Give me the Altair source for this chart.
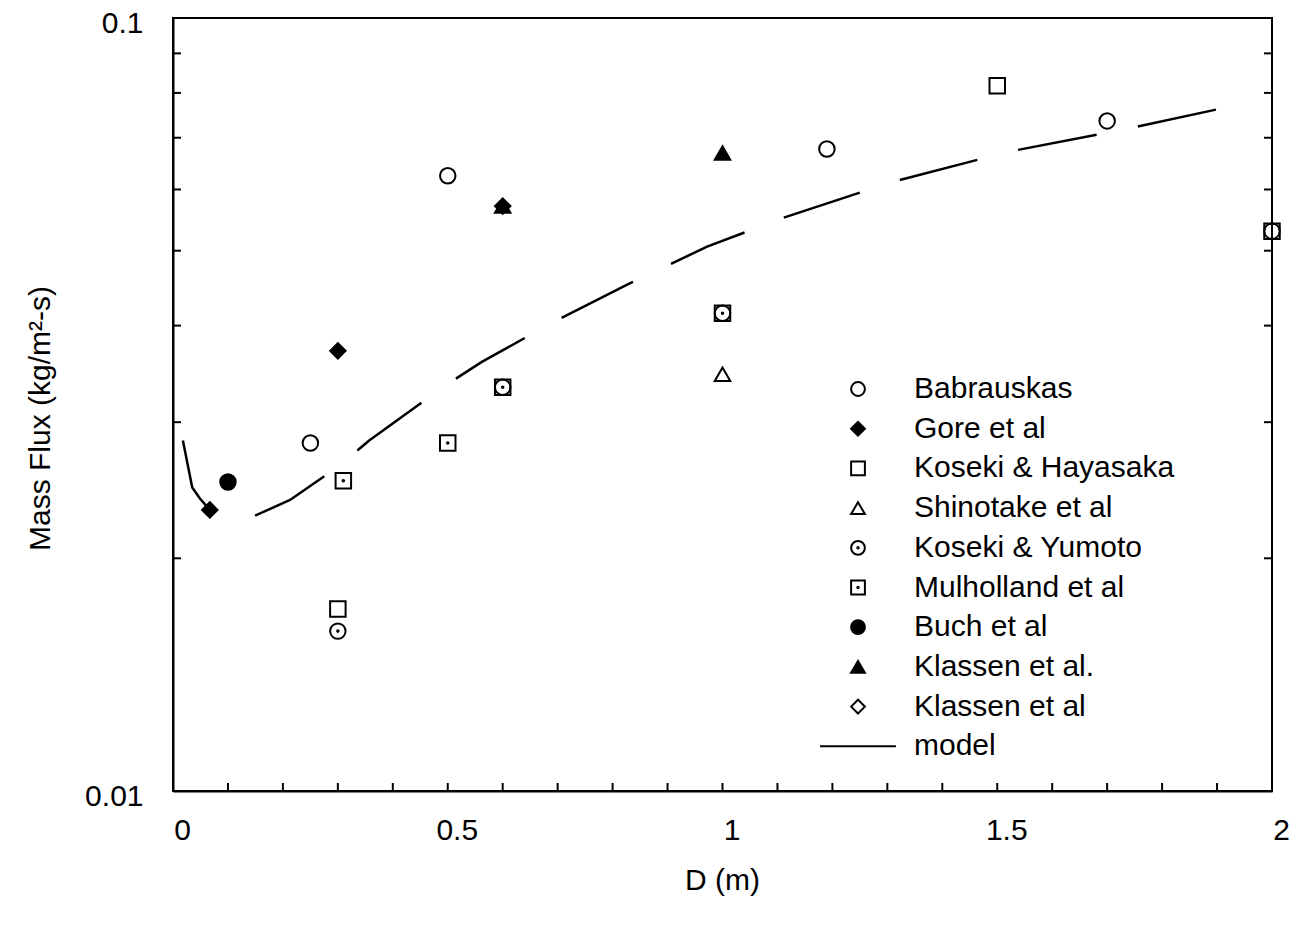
import altair as alt
import pandas as pd

# ---------------- data ----------------
series_names = ["Babrauskas", "Gore et al", "Koseki & Hayasaka", "Shinotake et al",
                "Koseki & Yumoto", "Mulholland et al", "Buch et al", "Klassen et al.",
                "Klassen et al", "model"]

babrauskas_d = [0.25, 0.50, 1.19, 1.70, 2.0]
babrauskas_m = [0.0282, 0.0625, 0.0677, 0.0736, 0.0530]

gore_d = [0.067, 0.30, 0.60]
gore_m = [0.0231, 0.0371, 0.0571]

koseki_hay_d = [0.30, 0.60, 1.0, 1.5, 2.0]
koseki_hay_m = [0.0172, 0.0333, 0.0415, 0.0817, 0.0530]

shinotake_d = [1.0]
shinotake_m = [0.0346]

koseki_yum_d = [0.30, 0.60, 1.0]
koseki_yum_m = [0.0161, 0.0333, 0.0415]

mulholland_d = [0.31, 0.50]
mulholland_m = [0.0252, 0.0282]

buch_d = [0.10]
buch_m = [0.0251]

klassen_dot_d = [0.60, 1.0]
klassen_dot_m = [0.0571, 0.0669]

klassen_d = []
klassen_m = []

model_d = [0.018, 0.035, 0.049, 0.067, 0.149, 0.213, 0.298, 0.357, 0.491, 0.562,
           0.697, 0.832, 0.972, 1.106, 1.310, 1.523, 1.733, 1.938]
model_m = [0.0284, 0.0247, 0.0239, 0.0231, 0.0227, 0.0238, 0.0262, 0.0284, 0.0333, 0.0359,
           0.0406, 0.0454, 0.0506, 0.0550, 0.0614, 0.0672, 0.0718, 0.0772]

x_tick_values = [0, 0.5, 1, 1.5, 2]
x_minor_ticks = [0.1, 0.2, 0.3, 0.4, 0.5, 0.6, 0.7, 0.8, 0.9, 1.0,
                 1.1, 1.2, 1.3, 1.4, 1.5, 1.6, 1.7, 1.8, 1.9]
y_tick_values = [0.01, 0.1]
y_minor_ticks = [0.02, 0.03, 0.04, 0.05, 0.06, 0.07, 0.08, 0.09]

# ---------------- tables ----------------
rows = []
for name, ds, ms in [
    ("Babrauskas", babrauskas_d, babrauskas_m),
    ("Gore et al", gore_d, gore_m),
    ("Koseki & Hayasaka", koseki_hay_d, koseki_hay_m),
    ("Shinotake et al", shinotake_d, shinotake_m),
    ("Koseki & Yumoto", koseki_yum_d, koseki_yum_m),
    ("Mulholland et al", mulholland_d, mulholland_m),
    ("Buch et al", buch_d, buch_m),
    ("Klassen et al.", klassen_dot_d, klassen_dot_m),
    ("Klassen et al", klassen_d, klassen_m),
]:
    for d, m in zip(ds, ms):
        rows.append({"D": d, "M": m, "series": name})
pts = pd.DataFrame(rows)
model = pd.DataFrame({"D": model_d, "M": model_m})
xt = pd.DataFrame({"D": x_minor_ticks})
yt = pd.DataFrame({"M": y_minor_ticks})

FONT = "Liberation Sans"

dot_circle = ("M-1,0A1,1,0,1,0,1,0A1,1,0,1,0,-1,0Z"
              "M-0.1,0A0.1,0.1,0,1,0,0.1,0A0.1,0.1,0,1,0,-0.1,0Z")
dot_square = ("M-1,-1H1V1H-1Z"
              "M-0.1,0A0.1,0.1,0,1,0,0.1,0A0.1,0.1,0,1,0,-0.1,0Z")
shapes = ["circle", "diamond", "square", "triangle-up", dot_circle, dot_square,
          "circle", "triangle-up", "diamond", "M-5.5,0L5.5,0"]
fills = ["transparent", "black", "transparent", "transparent", "transparent", "transparent",
         "black", "black", "transparent", "transparent"]
strokes = ["black"] * len(series_names)

xscale = alt.Scale(domain=[0, 2], nice=False, zero=False)
yscale = alt.Scale(type="log", domain=[0.01, 0.1], nice=False)

x_enc = alt.X("D:Q", scale=xscale,
              axis=alt.Axis(values=x_tick_values, title="D (m)", grid=False, ticks=False,
                            format="~g", labelOffset=9,
                            labelFontSize=30, labelFont=FONT, labelPadding=24,
                            labelColor="black", labelFlush=False,
                            titleFontSize=30, titleFont=FONT, titleFontWeight="normal",
                            titleColor="black", titleX=549, titleY=89,
                            titleBaseline="middle", titleAnchor="middle",
                            domainColor="black", domainWidth=2))
y_enc = alt.Y("M:Q", scale=yscale,
              axis=alt.Axis(values=y_tick_values, title="Mass Flux (kg/m²-s)", grid=False,
                            ticks=False, labelExpr="datum.value == 0.1 ? '0.1' : '0.01'",
                            labelOffset=5,
                            labelFontSize=30, labelFont=FONT, labelPadding=30,
                            labelColor="black", labelFlush=False,
                            titleFontSize=30, titleFont=FONT, titleFontWeight="normal",
                            titleColor="black", titleX=-133, titleY=400, titleAngle=-90,
                            titleBaseline="middle", titleAlign="center",
                            domainColor="black", domainWidth=2))

line = alt.Chart(model).mark_line(color="black", strokeWidth=2.5, strokeDash=[80, 42]).encode(
    x=x_enc, y=y_enc)

points = alt.Chart(pts).mark_point(size=240, strokeWidth=2, opacity=1).encode(
    x=alt.X("D:Q", scale=xscale),
    y=alt.Y("M:Q", scale=yscale),
    shape=alt.Shape("series:N", scale=alt.Scale(domain=series_names, range=shapes),
                    sort=series_names,
                    legend=alt.Legend(title=None, orient="none", legendX=670, legendY=356,
                                      labelFontSize=30, labelFont=FONT, labelColor="black",
                                      labelOffset=41, symbolSize=190, symbolStrokeWidth=2,
                                      symbolStrokeColor="black", symbolOpacity=1,
                                      rowPadding=9.7, padding=0, labelLimit=400)),
    fill=alt.Fill("series:N", scale=alt.Scale(domain=series_names, range=fills),
                  sort=series_names, legend=None),
    stroke=alt.Stroke("series:N", scale=alt.Scale(domain=series_names, range=strokes),
                      sort=series_names, legend=None),
)

xticks = alt.Chart(xt).mark_rule(color="black", strokeWidth=2, y2Offset=-8).encode(
    x=alt.X("D:Q", scale=xscale), y=alt.datum(0.01), y2=alt.datum(0.01))
yticks_l = alt.Chart(yt).mark_rule(color="black", strokeWidth=2, x2Offset=8).encode(
    y=alt.Y("M:Q", scale=yscale), x=alt.datum(0), x2=alt.datum(0))
yticks_r = alt.Chart(yt).mark_rule(color="black", strokeWidth=2, x2Offset=-8).encode(
    y=alt.Y("M:Q", scale=yscale), x=alt.datum(2), x2=alt.datum(2))

chart = alt.layer(line, xticks, yticks_l, yticks_r, points).properties(
    width=1099, height=773,
    autosize=alt.AutoSizeParams(type="none"),
    padding={"left": 173, "top": 18, "right": 29, "bottom": 138},
    background="white",
).configure_view(stroke="black", strokeWidth=2)

chart.save("out.html", embed_options={"renderer": "svg", "actions": False})
